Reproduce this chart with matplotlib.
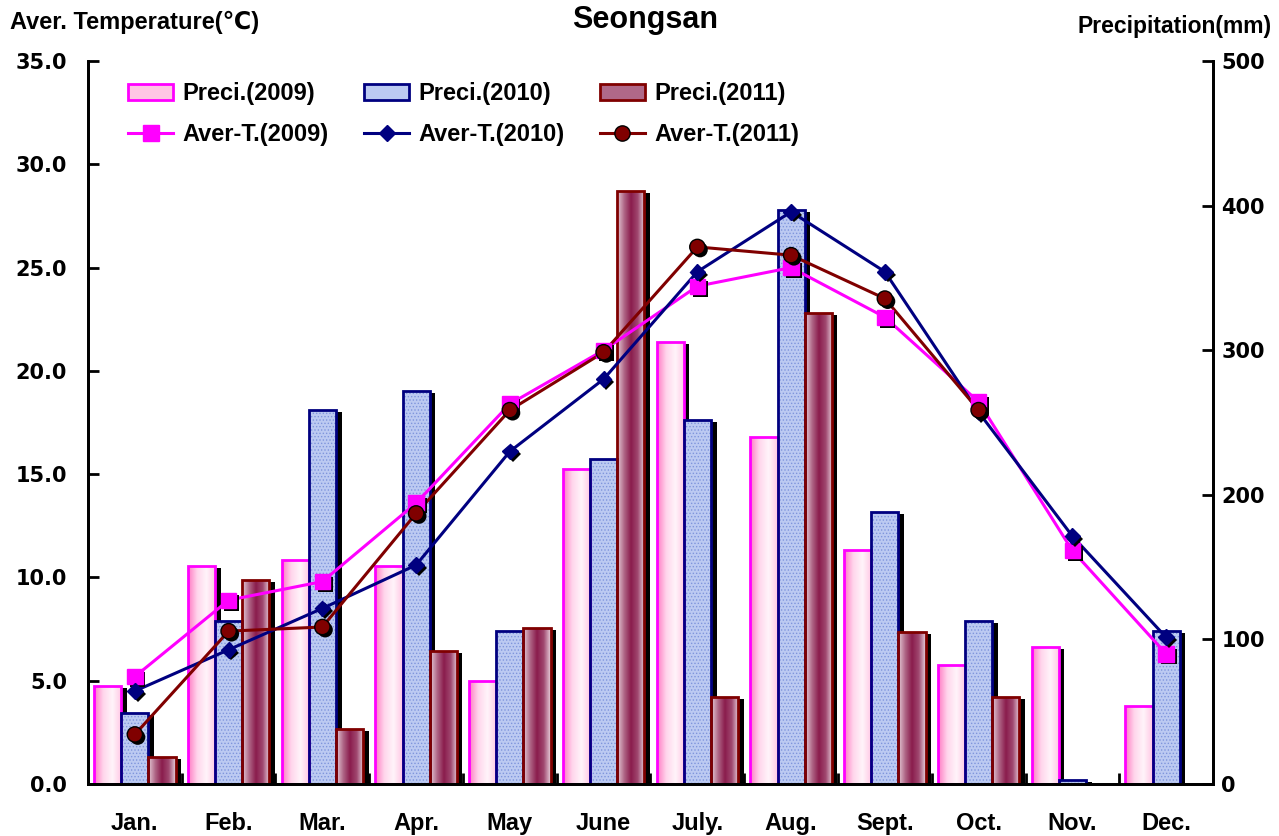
import numpy as np
import matplotlib.pyplot as plt
import matplotlib.patheffects as pe
from matplotlib.colors import LinearSegmentedColormap
from matplotlib.patches import Patch
from matplotlib.lines import Line2D

plt.rcParams['font.family'] = ['Liberation Sans', 'DejaVu Sans']
plt.rcParams['font.weight'] = 'bold'
plt.rcParams['hatch.linewidth'] = 0.6

months = ['Jan.', 'Feb.', 'Mar.', 'Apr.', 'May', 'June', 'July.', 'Aug.', 'Sept.', 'Oct.', 'Nov.', 'Dec.']

# precipitation (mm)
preci_2009 = [68, 151, 155, 151, 71, 218, 306, 240, 162, 82, 95, 54]
preci_2010 = [49, 113, 259, 272, 106, 225, 252, 397, 188, 113, 3, 106]
preci_2011 = [19, 141, 38, 92, 108, 410, 60, 326, 105, 60, np.nan, np.nan]

# average temperature (C)
temp_2009 = [5.2, 8.9, 9.8, 13.6, 18.4, 21.0, 24.1, 25.0, 22.6, 18.5, 11.3, 6.3]
temp_2010 = [4.5, 6.5, 8.5, 10.6, 16.1, 19.6, 24.8, 27.7, 24.8, 18.0, 12.0, 7.1]
temp_2011 = [2.4, 7.4, 7.6, 13.1, 18.1, 20.9, 26.0, 25.6, 23.5, 18.1, np.nan, np.nan]

x = np.arange(len(months))
w = 0.29

fig = plt.figure(figsize=(12.79, 8.36), dpi=100)
ax = fig.add_axes([0.0688, 0.0622, 0.8796, 0.8648])
ax2 = ax.twinx()
ax.set_zorder(ax2.get_zorder() + 1)
ax.patch.set_visible(False)

pink_cmap = LinearSegmentedColormap.from_list('pk', ['#ff7cc4', '#ffd6ec', '#fff4fa', '#ffc6e4'])
maroon_cmap = LinearSegmentedColormap.from_list('mr', ['#e6ccd8', '#b06888', '#8a1c4c', '#a04870', '#e8d0dc'])
grad = np.linspace(0, 1, 64)[np.newaxis, :]
shadow = [pe.SimplePatchShadow(offset=(4, -1.5), shadow_rgbFace='black', alpha=1), pe.Normal()]


def draw_bars(xs, vals, face, edge, cmap=None, hatch_col=None):
    bars = ax2.bar(xs, vals, w, color=face, edgecolor='none', zorder=2, path_effects=shadow)
    for b in bars:
        h = b.get_height()
        if not np.isfinite(h) or h <= 0:
            continue
        if cmap is not None:
            im = ax2.imshow(grad, cmap=cmap, extent=[b.get_x(), b.get_x() + w, 0, h],
                            aspect='auto', zorder=2.1, interpolation='bilinear')
            im.set_clip_path(b)
    if hatch_col is not None:
        ax2.bar(xs, vals, w, fill=False, edgecolor=hatch_col, linewidth=0, hatch='.....', zorder=2.15)
    ax2.bar(xs, vals, w, fill=False, edgecolor=edge, linewidth=2, zorder=2.2)


draw_bars(x - w, preci_2009, '#ffb8dc', '#ff00ff', cmap=pink_cmap)
draw_bars(x, preci_2010, '#bccaf2', '#000080', hatch_col='#7f95dc')
draw_bars(x + w, preci_2011, '#a04870', '#800000', cmap=maroon_cmap)

ax2.set_ylim(0, 500)
ax2.set_yticks(np.arange(0, 501, 100))

# temperature lines
mshadow = [pe.SimplePatchShadow(offset=(2, -2), shadow_rgbFace='black', alpha=1), pe.Normal()]
ax.plot(x, temp_2009, color='#ff00ff', lw=2.2, zorder=3)
ax.plot(x, temp_2010, color='#000080', lw=2.2, zorder=3)
ax.plot(x, temp_2011, color='#800000', lw=2.2, zorder=3)
ax.plot(x, temp_2009, ls='none', marker='s', ms=11, color='#ff00ff', mec='#ff00ff', zorder=4, path_effects=mshadow)
ax.plot(x, temp_2010, ls='none', marker='D', ms=8, color='#000080', mec='#000080', zorder=4, path_effects=mshadow)
ax.plot(x, temp_2011, ls='none', marker='o', ms=11, color='#800000', mec='black', mew=1, zorder=4, path_effects=mshadow)

ax.set_ylim(0, 35)
ax.set_yticks(np.arange(0, 35.1, 5))
ax.set_yticklabels(['%.1f' % v for v in np.arange(0, 35.1, 5)])
ax.set_xlim(-0.5, 11.5)
ax.set_xticks(x)
ax.set_xticklabels(months)
ax.set_xticks(np.arange(0.5, 11, 1), minor=True)

for a in (ax, ax2):
    a.spines['top'].set_visible(False)
    for s in ('left', 'right', 'bottom'):
        a.spines[s].set_linewidth(2)
ax.tick_params(axis='y', direction='in', length=8, width=2, pad=15)
ax.tick_params(axis='x', which='major', length=0, pad=20)
ax.tick_params(axis='x', which='minor', direction='in', length=8, width=2)
ax2.tick_params(axis='y', direction='in', length=8, width=2, pad=6)
for lab in ax.get_yticklabels() + ax2.get_yticklabels():
    lab.set_family('DejaVu Sans')
    lab.set_fontweight('bold')
    lab.set_fontsize(15)
for lab in ax.get_xticklabels():
    lab.set_fontweight('bold')
    lab.set_fontsize(17)

handles = [
    Patch(facecolor='#ffc6e4', edgecolor='#ff00ff', linewidth=2),
    Line2D([], [], color='#ff00ff', lw=2.2, marker='s', ms=11),
    Patch(facecolor='#bccaf2', edgecolor='#000080', linewidth=2),
    Line2D([], [], color='#000080', lw=2.2, marker='D', ms=8),
    Patch(facecolor='#b06888', edgecolor='#800000', linewidth=2),
    Line2D([], [], color='#800000', lw=2.2, marker='o', ms=11, mec='black'),
]
labels = ['Preci.(2009)', 'Aver-T.(2009)', 'Preci.(2010)', 'Aver-T.(2010)', 'Preci.(2011)', 'Aver-T.(2011)']
ax.legend(handles, labels, ncol=3, loc='upper left', bbox_to_anchor=(0.017, 1.0), frameon=False,
          prop={'size': 17, 'weight': 'bold'}, handlelength=1.9, handletextpad=0.4,
          columnspacing=1.5, labelspacing=0.75)

fig.text(645 / 1279, 1 - 20 / 836, 'Seongsan', ha='center', va='center', fontsize=22, fontweight='bold')
fig.text(10 / 1279, 1 - 22 / 836, 'Aver. Temperature(℃)', ha='left', va='center', fontsize=17, fontweight='bold')
fig.text(1272 / 1279, 1 - 27 / 836, 'Precipitation(mm)', ha='right', va='center', fontsize=16.5, fontweight='bold')

fig.savefig('out.png', dpi=100)
